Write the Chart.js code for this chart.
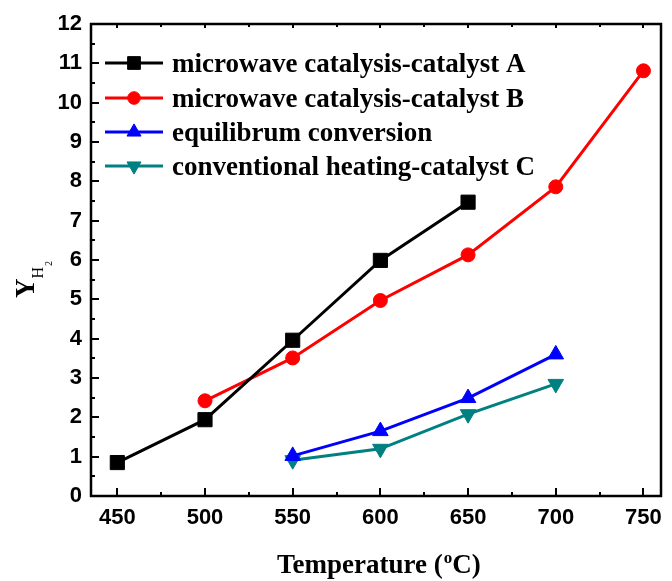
<!DOCTYPE html>
<html><head><meta charset="utf-8">
<script src="https://cdn.jsdelivr.net/npm/chart.js@4.4.1/dist/chart.umd.min.js"></script>
<style>html,body{margin:0;padding:0;background:#fff}#wrap{width:672px;height:581px;position:relative}</style>
</head><body><div id="wrap"><canvas id="c"></canvas></div>
<script>
// ---- data ----
const temperaturesA = [450, 500, 550, 600, 650];
const yieldA = [0.85, 1.94, 3.96, 5.99, 7.47];
const temperaturesB = [500, 550, 600, 650, 700, 750];
const yieldB = [2.42, 3.51, 4.97, 6.13, 7.86, 10.81];
const temperaturesEq = [550, 600, 650, 700];
const yieldEq = [1.02, 1.65, 2.49, 3.60];
const temperaturesC = [550, 600, 650, 700];
const yieldC = [0.91, 1.20, 2.08, 2.85];
const seriesLabels = ['microwave catalysis-catalyst A', 'microwave catalysis-catalyst B', 'equilibrum conversion', 'conventional heating-catalyst C'];
const xTickValues = [450, 500, 550, 600, 650, 700, 750];
const yTickValues = [0, 1, 2, 3, 4, 5, 6, 7, 8, 9, 10, 11, 12];
const xTitle = 'Temperature (';
const xTitleSup = 'o';
const xTitleEnd = 'C)';
const yTitle = 'Y';
const yTitleSub = 'H';
const yTitleSubSub = '2';

const pts = (xs, ys) => xs.map((x, i) => ({x: x, y: ys[i]}));
const colors = ['#000000', '#ff0000', '#0000ff', '#008080'];
const styles = ['rect', 'circle', 'triangle', 'triangle'];
const radii = [10, 7, 9, 9];
const rotations = [0, 0, 0, 180];
const series = [pts(temperaturesA, yieldA), pts(temperaturesB, yieldB), pts(temperaturesEq, yieldEq), pts(temperaturesC, yieldC)];

const datasets = series.map((d, i) => ({
  label: seriesLabels[i], data: d,
  borderColor: colors[i], backgroundColor: colors[i], borderWidth: 3,
  pointStyle: styles[i], pointRadius: radii[i], pointRotation: rotations[i],
  pointBackgroundColor: colors[i], pointBorderColor: colors[i], pointBorderWidth: 1,
  tension: 0
}));

function drawMarker(ctx, style, x, y, r, rot, color) {
  ctx.save();
  ctx.fillStyle = color; ctx.strokeStyle = color; ctx.lineWidth = 1;
  ctx.beginPath();
  if (style === 'rect') {
    const s = r * Math.SQRT1_2;
    ctx.rect(x - s, y - s, 2 * s, 2 * s);
  } else if (style === 'circle') {
    ctx.arc(x, y, r, 0, Math.PI * 2);
  } else {
    let a = rot * Math.PI / 180;
    ctx.moveTo(x + Math.sin(a) * r, y - Math.cos(a) * r);
    a += 2 * Math.PI / 3;
    ctx.lineTo(x + Math.sin(a) * r, y - Math.cos(a) * r);
    a += 2 * Math.PI / 3;
    ctx.lineTo(x + Math.sin(a) * r, y - Math.cos(a) * r);
    ctx.closePath();
  }
  ctx.fill(); ctx.stroke();
  ctx.restore();
}

const framePlugin = {
  id: 'frame',
  afterDraw(chart) {
    const ctx = chart.ctx, a = chart.chartArea;
    const xs = chart.scales.x, ys = chart.scales.y;
    ctx.save();
    ctx.strokeStyle = '#000'; ctx.lineWidth = 2.5;
    ctx.strokeRect(a.left, a.top, a.right - a.left, a.bottom - a.top);
    ctx.lineWidth = 2;
    ctx.beginPath();
    // x ticks (bottom and top)
    xTickValues.forEach(v => {
      const px = Math.round(xs.getPixelForValue(v));
      ctx.moveTo(px, a.bottom); ctx.lineTo(px, a.bottom - 8);
      ctx.moveTo(px, a.top); ctx.lineTo(px, a.top + 4);
      const m = v + 25;
      if (m < xs.max) {
        const pm = Math.round(xs.getPixelForValue(m));
        ctx.moveTo(pm, a.bottom); ctx.lineTo(pm, a.bottom - 4);
        ctx.moveTo(pm, a.top); ctx.lineTo(pm, a.top + 3);
      }
    });
    const m0 = xTickValues[0] - 25;
    if (m0 > xs.min) {
      const pm = Math.round(xs.getPixelForValue(m0));
      ctx.moveTo(pm, a.bottom); ctx.lineTo(pm, a.bottom - 4);
    }
    // y ticks (left)
    yTickValues.forEach(v => {
      const py = Math.round(ys.getPixelForValue(v));
      ctx.moveTo(a.left, py); ctx.lineTo(a.left + 8, py);
      const m = v + 0.5;
      if (m < ys.max) {
        const pm = Math.round(ys.getPixelForValue(m));
        ctx.moveTo(a.left, pm); ctx.lineTo(a.left + 4, pm);
      }
    });
    ctx.stroke();

    // legend
    const rowY = [63, 98, 132, 166];
    ctx.font = 'bold 27px "Liberation Serif", "Times New Roman", serif';
    ctx.textBaseline = 'alphabetic'; ctx.textAlign = 'left';
    chart.data.datasets.forEach((ds, i) => {
      const y = rowY[i];
      ctx.strokeStyle = ds.borderColor; ctx.lineWidth = 3;
      ctx.beginPath(); ctx.moveTo(105, y); ctx.lineTo(163, y); ctx.stroke();
      drawMarker(ctx, ds.pointStyle, 134, y, ds.pointRadius * 0.9, ds.pointRotation, ds.pointBackgroundColor);
      ctx.fillStyle = '#000';
      ctx.fillText(ds.label, 172, y + 9);
    });

    // x title
    ctx.fillStyle = '#000';
    ctx.font = 'bold 27px "Liberation Serif", "Times New Roman", serif';
    let x = 277;
    ctx.fillText(xTitle, x, 573);
    x += ctx.measureText(xTitle).width;
    ctx.font = 'bold 17px "Liberation Serif", "Times New Roman", serif';
    ctx.fillText(xTitleSup, x + 1, 563);
    x += ctx.measureText(xTitleSup).width + 1;
    ctx.font = 'bold 27px "Liberation Serif", "Times New Roman", serif';
    ctx.fillText(xTitleEnd, x, 573);

    // y title
    ctx.save();
    ctx.translate(34, 298);
    ctx.rotate(-Math.PI / 2);
    ctx.font = 'bold 27px "Liberation Serif", "Times New Roman", serif';
    ctx.fillText(yTitle, 0, 0);
    const yw = ctx.measureText(yTitle).width;
    ctx.font = '16px "Liberation Serif", "Times New Roman", serif';
    ctx.fillText(yTitleSub, yw, 9);
    const hw = ctx.measureText(yTitleSub).width;
    ctx.font = '10px "Liberation Serif", "Times New Roman", serif';
    ctx.fillText(yTitleSubSub, yw + hw + 1, 18);
    ctx.restore();
    ctx.restore();
  }
};

new Chart(document.getElementById('c'), {
  type: 'line',
  data: { datasets: datasets },
  options: {
    responsive: true, maintainAspectRatio: false, animation: false,
    layout: { padding: { left: 0, right: 6, top: 24, bottom: 0 } },
    plugins: { legend: { display: false }, tooltip: { enabled: false } },
    scales: {
      x: {
        type: 'linear', min: 435, max: 760,
        afterBuildTicks: s => { s.ticks = xTickValues.map(v => ({value: v})); },
        afterFit: s => { s.height = 85; },
        grid: { display: false, drawTicks: false }, border: { display: false },
        ticks: { color: '#000', padding: 9, maxRotation: 0, autoSkip: false,
          font: { family: '"Liberation Sans", Arial, sans-serif', size: 22, weight: 'bold' } }
      },
      y: {
        type: 'linear', min: 0, max: 12,
        afterBuildTicks: s => { s.ticks = yTickValues.map(v => ({value: v})); },
        afterFit: s => { s.width = 91; },
        grid: { display: false, drawTicks: false }, border: { display: false },
        ticks: { color: '#000', padding: 9, autoSkip: false,
          font: { family: '"Liberation Sans", Arial, sans-serif', size: 22, weight: 'bold' } }
      }
    }
  },
  plugins: [framePlugin]
});
</script></body></html>
